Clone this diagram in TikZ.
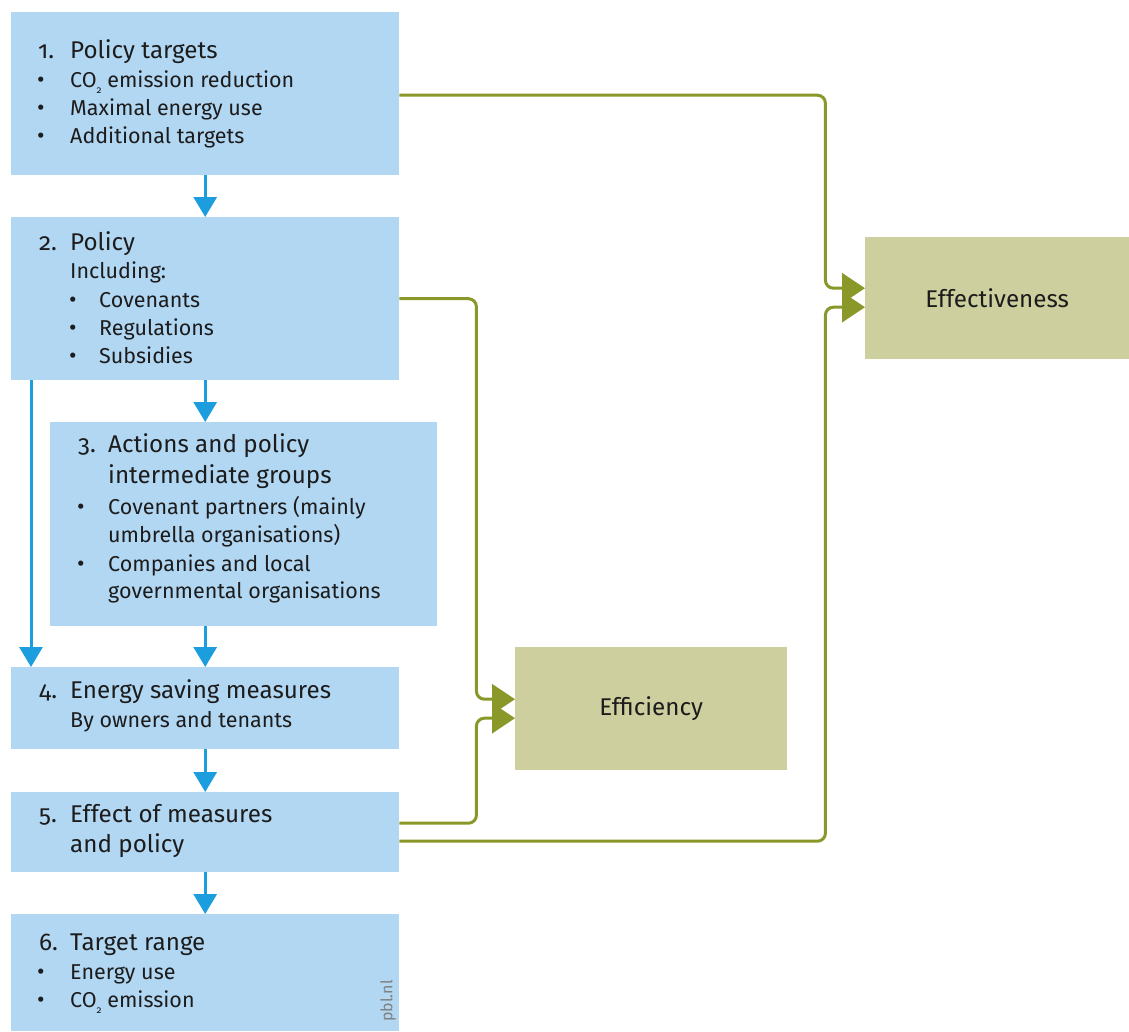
\documentclass[tikz,border=0pt]{standalone}
\usepackage{fontspec}
\setmainfont{Fira Sans}[Numbers=OldStyle]
\usetikzlibrary{arrows.meta}
\definecolor{boxblue}{RGB}{178,215,243}
\definecolor{arrblue}{RGB}{27,157,222}
\definecolor{olive}{RGB}{138,152,42}
\definecolor{boxgreen}{RGB}{205,207,158}
\definecolor{txtc}{RGB}{28,28,28}
\newcommand{\cotwo}{CO\raisebox{-0.6ex}{\fontsize{10}{10}\selectfont 2}}
\tikzset{
  bluebox/.style={fill=boxblue, draw=none, inner sep=0pt, anchor=north west},
  greenbox/.style={fill=boxgreen, draw=none, inner sep=0pt, anchor=north west},
  ttl/.style={inner sep=0pt, anchor=base west, text=txtc, font=\fontsize{24.2}{28}\selectfont},
  bdy/.style={inner sep=0pt, anchor=base west, text=txtc, font=\fontsize{21.5}{25}\selectfont},
  blt/.style={inner sep=0pt, anchor=base west, text=txtc, font=\fontsize{23}{25}\selectfont},
  barrow/.style={draw=arrblue, line width=3pt, -{Triangle[length=20pt,width=23pt]}},
  garrow/.style={draw=olive, line width=3pt, rounded corners=8pt, -{Triangle[length=23pt,width=30pt]}},
}
\begin{document}
\begin{tikzpicture}[x=1pt,y=-1pt]
\useasboundingbox (0,0) rectangle (1129,1031);
% boxes
\node[bluebox, minimum width=388pt, minimum height=163pt] (b1) at (11,12) {};
\node[bluebox, minimum width=388pt, minimum height=163pt] (b2) at (11,217) {};
\node[bluebox, minimum width=387pt, minimum height=204pt] (b3) at (50,422) {};
\node[bluebox, minimum width=388pt, minimum height=82pt] (b4) at (11,667) {};
\node[bluebox, minimum width=388pt, minimum height=80pt] (b5) at (11,792) {};
\node[bluebox, minimum width=388pt, minimum height=117pt] (b6) at (11,914) {};
\node[greenbox, minimum width=264pt, minimum height=122pt] (eff) at (865,237) {};
\node[greenbox, minimum width=272pt, minimum height=123pt] (effi) at (515,647) {};
% texts box 1
\node[ttl] (n1) at (38,58) {1.};
\node[ttl] (t1) at (70,58) {Policy targets};
\node[blt] (p1a) at (37,87) {•};
\node[bdy] (t1a) at (70,87) {\cotwo\ emission reduction};
\node[blt] (p1b) at (37,115) {•};
\node[bdy] (t1b) at (70,115) {Maximal energy use};
\node[blt] (p1c) at (37,143) {•};
\node[bdy] (t1c) at (70,143) {Additional targets};
% box 2
\node[ttl] (n2) at (39,250) {2.};
\node[ttl] (t2) at (70,250) {Policy};
\node[bdy] (t2i) at (70,278) {Including:};
\node[blt] (p2a) at (69,307) {•};
\node[bdy] (t2a) at (99,307) {Covenants};
\node[blt] (p2b) at (69,335) {•};
\node[bdy] (t2b) at (99,335) {Regulations};
\node[blt] (p2c) at (69,363) {•};
\node[bdy] (t2c) at (99,363) {Subsidies};
% box 3
\node[ttl] (n3) at (78,452) {3.};
\node[ttl] (t3) at (108,452) {Actions and policy};
\node[ttl] (t3b) at (108,483) {intermediate groups};
\node[blt] (p3a) at (77,514) {•};
\node[bdy] (t3c) at (108,514) {Covenant partners (mainly};
\node[bdy] (t3d) at (108,542) {umbrella organisations)};
\node[blt] (p3b) at (77,571) {•};
\node[bdy] (t3e) at (108,571) {Companies and local};
\node[bdy] (t3f) at (108,598) {governmental organisations};
% box 4
\node[ttl] (n4) at (39,698) {4.};
\node[ttl] (t4) at (70,698) {Energy saving measures};
\node[bdy] (t4a) at (70,727) {By owners and tenants};
% box 5
\node[ttl] (n5) at (39,822) {5.};
\node[ttl] (t5) at (70,822) {Effect of measures};
\node[ttl] (t5b) at (70,852) {and policy};
% box 6
\node[ttl] (n6) at (39,950) {6.};
\node[ttl] (t6) at (70,950) {Target range};
\node[blt] (p6a) at (37,979) {•};
\node[bdy] (t6a) at (70,979) {Energy use};
\node[blt] (p6b) at (37,1007) {•};
\node[bdy] (t6b) at (70,1007) {\cotwo\ emission};
\node[inner sep=0pt, rotate=90, text=gray, font=\fontsize{16}{18}\selectfont] (pbl) at (388,1001) {pbl.nl};
% green box labels
\node[inner sep=0pt, text=txtc, font=\fontsize{24.2}{28}\selectfont] (teff) at (eff.center) {Effectiveness};
\node[inner sep=0pt, text=txtc, font=\fontsize{24.2}{28}\selectfont] (teffi) at (effi.center) {Efficiency};
% blue arrows
\draw[barrow] (b1.south) -- (b2.north);
\draw[barrow] (b2.south) -- (b3.north -| b2.south);
\draw[barrow] (b3.south -| b2.south) -- (b4.north);
\draw[barrow] (b4.south) -- (b5.north);
\draw[barrow] (b5.south) -- (b6.north);
\draw[barrow] ([xshift=20pt]b2.south west) -- ([xshift=20pt]b4.north west);
% green arrows
\draw[garrow] ([yshift=-1.5pt]b1.east) -- ++(426,0) |- ([yshift=10pt]eff.west);
\draw[garrow] ([yshift=-9pt]b5.east) -- ++(426,0) |- ([yshift=-9pt]eff.west);
\draw[garrow] (b2.east) -- ++(77,0) |- ([yshift=9.5pt]effi.west);
\draw[garrow] ([yshift=9pt]b5.east) -- ++(77,0) |- ([yshift=-9.5pt]effi.west);
\end{tikzpicture}
\end{document}
